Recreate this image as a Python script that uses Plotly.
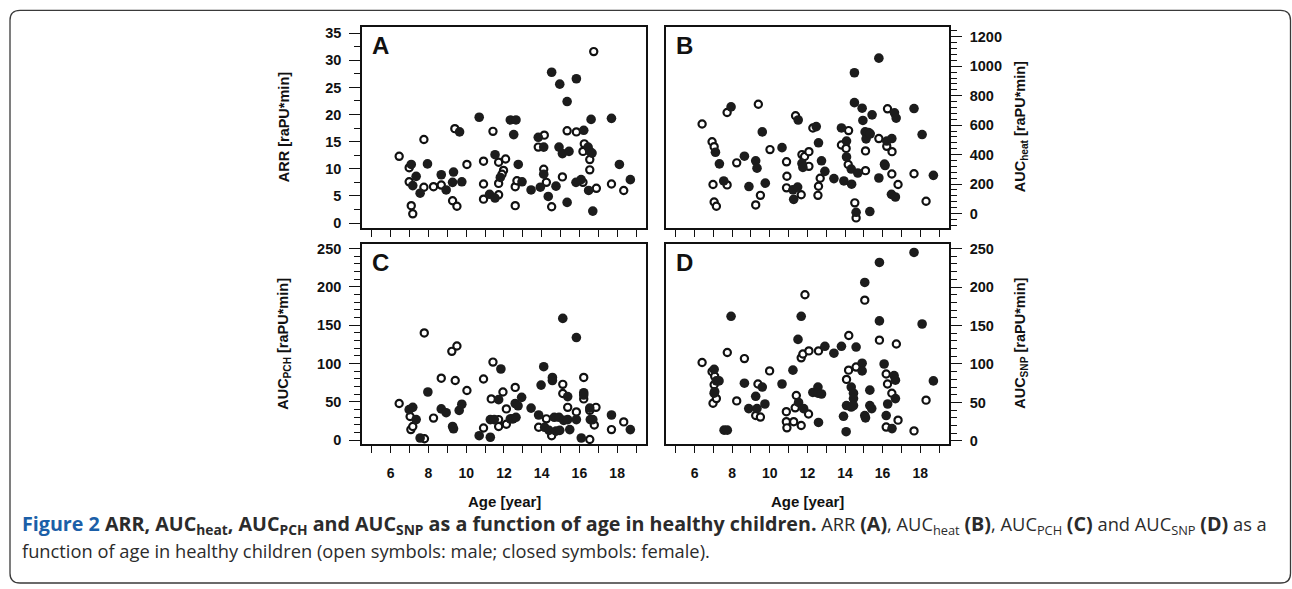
import plotly.graph_objects as go

# ---------------- data ----------------
# Panel A: ARR
a_male_age = [6.45, 6.98, 6.98, 7.09, 7.17, 7.76, 7.76, 8.27, 8.68, 9.28, 9.51, 9.40, 10.04, 10.92, 10.92,
              10.92, 11.42, 11.72, 11.72, 11.72, 11.98, 12.09, 11.90, 12.60, 12.60, 12.69, 13.82, 14.14,
              14.11, 14.25, 14.53, 15.10, 15.35, 15.84, 16.19, 16.19, 16.26, 16.55, 16.55, 16.76, 16.90,
              17.70, 18.35]
a_male_val = [12.3, 10.2, 7.6, 3.2, 1.7, 6.6, 15.4, 6.7, 7.0, 4.1, 3.1, 17.4, 10.8, 11.4, 7.2,
              4.4, 16.9, 5.2, 11.2, 7.3, 9.7, 11.8, 9.0, 6.7, 3.2, 7.8, 14.0, 16.2,
              9.9, 7.5, 3.0, 8.5, 17.0, 16.8, 7.5, 13.2, 14.6, 11.7, 9.8, 31.6, 6.4,
              7.2, 6.0]
a_female_age = [7.09, 7.17, 7.35, 7.56, 7.95, 8.68, 8.94, 9.28, 9.33, 9.65, 9.77, 10.69, 11.24, 11.53,
                11.53, 11.81, 12.34, 12.64, 12.52, 12.76, 12.96, 13.44, 13.82, 14.11, 13.93, 14.11,
                14.35, 14.53, 14.76, 14.96, 14.92, 15.10, 15.35, 15.45, 15.35, 15.84, 15.82, 16.23,
                16.09, 16.46, 16.55, 16.67, 16.62, 16.49, 16.71, 17.70, 18.12, 18.70]
a_female_val = [10.8, 6.9, 8.6, 5.5, 10.9, 8.9, 6.1, 7.5, 9.4, 16.8, 7.6, 19.5, 5.3, 12.6,
                4.6, 8.4, 19.0, 19.0, 16.3, 10.8, 7.6, 6.1, 15.8, 14.0, 6.6, 9.0,
                4.9, 27.8, 6.8, 25.6, 14.0, 12.8, 22.4, 13.2, 3.8, 26.6, 7.5, 17.1,
                8.0, 14.0, 13.2, 12.9, 19.1, 6.0, 2.2, 19.3, 10.8, 8.0]

# Panel B: AUC heat
b_male_age = [6.40, 6.93, 7.04, 6.98, 7.04, 7.16, 7.73, 7.73, 8.24, 9.25, 9.39, 9.50, 10.01, 10.89, 10.91,
              10.89, 11.37, 11.67, 11.71, 11.85, 12.08, 12.08, 12.29, 12.56, 12.59, 12.68, 13.81, 14.06,
              14.19, 14.17, 14.52, 14.59, 15.09, 15.09, 15.80, 16.26, 16.22, 16.49, 16.50, 16.82, 17.67,
              18.31]
b_male_val = [608, 487, 454, 197, 78, 49, 686, 194, 344, 58, 742, 123, 434, 351, 253,
              174, 664, 127, 400, 387, 420, 320, 581, 123, 185, 239, 465, 442,
              563, 333, 72, -30, 291, 425, 509, 711, 456, 268, 420, 197, 270,
              83]
b_female_age = [7.11, 7.32, 7.94, 7.55, 8.65, 8.89, 9.25, 9.32, 9.60, 9.76, 10.65, 11.23, 11.27, 11.48,
                11.51, 11.71, 11.76, 12.47, 12.59, 12.75, 12.93, 13.41, 13.81, 14.08, 13.94, 14.08,
                14.33, 14.35, 14.50, 14.50, 14.59, 14.68, 15.32, 14.95, 15.07, 15.12, 15.25, 15.34,
                14.91, 15.44, 15.80, 15.80, 16.10, 16.13, 16.22, 16.49, 16.47, 16.68, 16.63, 16.72,
                17.67, 18.10, 18.70]
b_female_val = [416, 337, 724, 221, 389, 183, 358, 308, 554, 206, 447, 161, 96, 179,
                635, 340, 313, 590, 480, 358, 286, 237, 581, 492, 221, 384,
                302, 199, 956, 753, 8, 275, 13, 632, 554, 507, 550, 541,
                715, 670, 1055, 241, 335, 326, 492, 509, 130, 112, 684, 648,
                713, 536, 259]

# Panel C: AUC PCH
c_male_age = [6.45, 7.03, 7.07, 7.17, 7.78, 7.79, 8.27, 8.68, 9.24, 9.51, 9.42, 10.04, 10.92, 10.92, 11.33,
              11.42, 11.72, 11.72, 11.95, 12.13, 12.13, 12.60, 13.84, 14.25, 14.53, 15.12, 15.12, 15.38,
              15.84, 16.23, 16.23, 16.55, 16.55, 16.79, 16.88, 17.70, 18.35]
c_male_val = [48, 31, 14, 18, 140, 2, 29, 81, 116, 123, 78, 65, 80, 16, 54,
              102, 27, 18, 63, 41, 21, 69, 17, 28, 6, 73, 61, 43,
              37, 82, 54, 39, 1, 20, 43, 14, 24]
c_female_age = [6.98, 7.17, 7.35, 7.56, 7.97, 8.68, 8.94, 9.28, 9.33, 9.63, 9.77, 10.69, 11.28, 11.28,
                11.49, 11.72, 11.84, 12.34, 12.48, 12.64, 12.60, 12.75, 12.94, 13.44, 13.84, 13.97,
                14.11, 14.16, 14.39, 14.57, 14.57, 14.67, 14.76, 14.96, 14.92, 15.12, 15.17, 15.38,
                15.38, 15.49, 15.84, 15.84, 16.10, 16.23, 16.23, 16.55, 16.58, 16.71, 17.70, 18.70]
c_female_val = [40, 43, 27, 3, 63, 41, 36, 18, 15, 39, 47, 6, 4, 27,
                27, 53, 93, 28, 28, 30, 48, 45, 56, 42, 33, 72,
                96, 17, 13, 82, 78, 30, 12, 13, 30, 159, 26, 57,
                27, 14, 134, 27, 3, 62, 59, 42, 27, 27, 33, 14]

# Panel D: AUC SNP
d_male_age = [6.40, 6.93, 7.07, 7.04, 6.98, 7.16, 7.74, 8.24, 8.65, 9.25, 9.37, 9.50, 9.99, 10.88, 10.88,
              10.91, 11.27, 11.35, 11.41, 11.67, 11.67, 11.76, 11.87, 12.06, 12.08, 12.59, 14.08, 14.19,
              14.20, 14.59, 15.05, 15.83, 16.19, 16.26, 16.19, 16.49, 16.73, 16.82, 17.67, 18.31]
d_male_val = [102, 90, 84, 73, 49, 55, 115, 52, 107, 33, 74, 31, 91, 38, 25,
              17, 25, 43, 59, 108, 20, 113, 190, 35, 117, 117, 80, 92,
              137, 96, 183, 131, 87, 74, 18, 62, 126, 27, 13, 53]
d_female_age = [7.04, 7.16, 7.30, 7.04, 7.07, 7.57, 7.74, 7.94, 8.65, 8.88, 9.25, 9.32, 9.60, 9.74,
                10.65, 11.23, 11.50, 11.53, 11.67, 11.80, 12.29, 12.56, 12.56, 12.75, 12.59, 12.93,
                13.41, 13.81, 13.92, 14.06, 14.08, 14.33, 14.33, 14.45, 14.45, 14.45, 14.59, 14.91,
                14.91, 15.05, 15.05, 15.09, 15.32, 15.32, 15.42, 15.83, 15.83, 16.08, 16.27, 16.19,
                16.50, 16.61, 16.68, 16.68, 17.67, 18.10, 18.70]
d_female_val = [93, 78, 78, 62, 64, 14, 14, 162, 75, 42, 58, 42, 70, 48,
                74, 92, 132, 50, 162, 42, 63, 70, 62, 61, 24, 123,
                114, 123, 32, 12, 46, 44, 70, 62, 55, 46, 122, 101,
                91, 206, 33, 30, 66, 46, 42, 232, 156, 100, 48, 33,
                16, 85, 79, 55, 245, 152, 78]

x_ticks = [6, 8, 10, 12, 14, 16, 18]
y_titles = ["ARR [raPU*min]", "AUC<sub>heat</sub> [raPU*min]",
            "AUC<sub>PCH</sub> [raPU*min]", "AUC<sub>SNP</sub> [raPU*min]"]
panel_letters = ["A", "B", "C", "D"]

# ---------------- layout helpers ----------------
W, H = 1292, 589
def fx(p):
    return p / W
def fy(p):
    return 1 - p / H

INK = "#111111"
FONT = "Liberation Sans, Arial, Helvetica, sans-serif"

fig = go.Figure()

panels = [
    (a_male_age, a_male_val, a_female_age, a_female_val),
    (b_male_age, b_male_val, b_female_age, b_female_val),
    (c_male_age, c_male_val, c_female_age, c_female_val),
    (d_male_age, d_male_val, d_female_age, d_female_val),
]
for i, (ma, mv, fa, fv) in enumerate(panels):
    xa = "x" if i == 0 else f"x{i+1}"
    ya = "y" if i == 0 else f"y{i+1}"
    fig.add_trace(go.Scatter(x=ma, y=mv, mode="markers", xaxis=xa, yaxis=ya, showlegend=False,
                             marker=dict(size=7.2, color="white", line=dict(color=INK, width=2.2))))
    fig.add_trace(go.Scatter(x=fa, y=fv, mode="markers", xaxis=xa, yaxis=ya, showlegend=False,
                             marker=dict(size=9.6, color="#1c1c1c", line=dict(width=0))))

boxes_x = [(362, 646), (666, 949), (362, 646), (666, 949)]
boxes_y = [(24, 228), (24, 228), (244, 447.3), (244, 447.3)]
y_ranges = [[-0.9, 36.2], [-98, 1269], [-5.1, 256.4], [-4.3, 256.4]]
y_dtick = [5, 200, 50, 50]
y_minor = [2.5, 40, 10, 10]
y_side = ["left", "right", "left", "right"]

layout = dict(width=W, height=H, margin=dict(l=0, r=0, t=0, b=0),
              paper_bgcolor="white", plot_bgcolor="white", showlegend=False)

for i in range(4):
    xk = "xaxis" if i == 0 else f"xaxis{i+1}"
    yk = "yaxis" if i == 0 else f"yaxis{i+1}"
    ya = "y" if i == 0 else f"y{i+1}"
    xa = "x" if i == 0 else f"x{i+1}"
    layout[xk] = dict(
        domain=[fx(boxes_x[i][0]), fx(boxes_x[i][1])], anchor=ya,
        range=[4.48, 19.53], tickmode="array", tickvals=x_ticks,
        ticktext=[str(v) for v in x_ticks], showticklabels=(i >= 2),
        ticks="outside", ticklen=7, tickwidth=1.3, tickcolor=INK,
        minor=dict(tickmode="linear", tick0=5, dtick=1, ticks="outside", ticklen=7,
                   tickwidth=1.3, tickcolor=INK, showgrid=False),
        showline=True, mirror=True, linecolor=INK, linewidth=1.6,
        showgrid=False, zeroline=False, ticklabelstandoff=8,
        tickfont=dict(family=FONT, size=14, color=INK, weight="bold"),
    )
    layout[yk] = dict(
        domain=[fy(boxes_y[i][1]), fy(boxes_y[i][0])], anchor=xa, side=y_side[i],
        range=y_ranges[i], tickmode="linear", tick0=0, dtick=y_dtick[i],
        ticks="outside", ticklen=11, tickwidth=1.3, tickcolor=INK,
        minor=dict(tickmode="linear", tick0=0, dtick=y_minor[i], ticks="outside", ticklen=6,
                   tickwidth=1.3, tickcolor=INK, showgrid=False),
        showline=True, mirror=True, linecolor=INK, linewidth=1.6,
        showgrid=False, zeroline=False, ticklabelstandoff=5,
        tickfont=dict(family=FONT, size=14.5, color=INK, weight="bold"),
    )

fig.update_layout(**layout)

annotations = []
# panel letters
letter_pos = [(370, 43), (674, 43), (370, 263), (674, 263)]
for (px_, py_), t in zip(letter_pos, panel_letters):
    annotations.append(dict(x=fx(px_), y=fy(py_), xref="paper", yref="paper", text=f"<b>{t}</b>",
                            showarrow=False, xanchor="left", yanchor="middle",
                            font=dict(family=FONT, size=24, color=INK)))
# y titles
title_pos = [(284, 126), (1021, 126), (284, 345.5), (1021, 345.5)]
for (px_, py_), t in zip(title_pos, y_titles):
    annotations.append(dict(x=fx(px_), y=fy(py_), xref="paper", yref="paper", text=f"<b>{t}</b>",
                            showarrow=False, textangle=-90, xanchor="center", yanchor="middle",
                            font=dict(family=FONT, size=14.5, color=INK)))
# x titles
for cx in (504, 807.5):
    annotations.append(dict(x=fx(cx), y=fy(505), xref="paper", yref="paper", text="<b>Age [year]</b>",
                            showarrow=False, xanchor="center", yanchor="middle",
                            font=dict(family=FONT, size=15, color=INK)))

CAP_FONT = "Open Sans, Noto Sans, sans-serif"
BIG = "<span style='font-size:19.7px'>"
cap1 = (f"<b>{BIG}<span style='color:#1b5fa8'>Figure 2</span> ARR, AUC<sub>heat</sub>, AUC<sub>PCH</sub> and "
        "AUC<sub>SNP</sub> as a function of age in healthy children.</span></b> ARR "
        f"<b>{BIG}(A)</span></b>, AUC<sub>heat</sub> <b>{BIG}(B)</span></b>, AUC<sub>PCH</sub> "
        f"<b>{BIG}(C)</span></b> and AUC<sub>SNP</sub> <b>{BIG}(D)</span></b> as a")
cap2 = "function of age in healthy children (open symbols: male; closed symbols: female)."
annotations.append(dict(x=fx(20), y=fy(529), xref="paper", yref="paper", text=cap1, showarrow=False,
                        xanchor="left", yanchor="middle", font=dict(family=CAP_FONT, size=18.3, color="#2b2b2b")))
annotations.append(dict(x=fx(20), y=fy(555), xref="paper", yref="paper", text=cap2, showarrow=False,
                        xanchor="left", yanchor="middle", font=dict(family=CAP_FONT, size=18.3, color="#2b2b2b")))
fig.update_layout(annotations=annotations)

# rounded border around the figure
L, T, R, B, r = 10, 7.5, 1290.5, 588, 10
path = (f"M {fx(L)},{fy(B - r)} L {fx(L)},{fy(T + r)} Q {fx(L)},{fy(T)} {fx(L + r)},{fy(T)} "
        f"L {fx(R - r)},{fy(T)} Q {fx(R)},{fy(T)} {fx(R)},{fy(T + r)} L {fx(R)},{fy(B - r)} "
        f"Q {fx(R)},{fy(B)} {fx(R - r)},{fy(B)} L {fx(L + r)},{fy(B)} Q {fx(L)},{fy(B)} {fx(L)},{fy(B - r)} Z")
fig.add_shape(type="path", path=path, xref="paper", yref="paper",
              line=dict(color="#3a3a3a", width=1.3), fillcolor="rgba(0,0,0,0)")

fig.write_html("out.html", config={"displayModeBar": False},
               post_script="document.body.style.margin='0';")
